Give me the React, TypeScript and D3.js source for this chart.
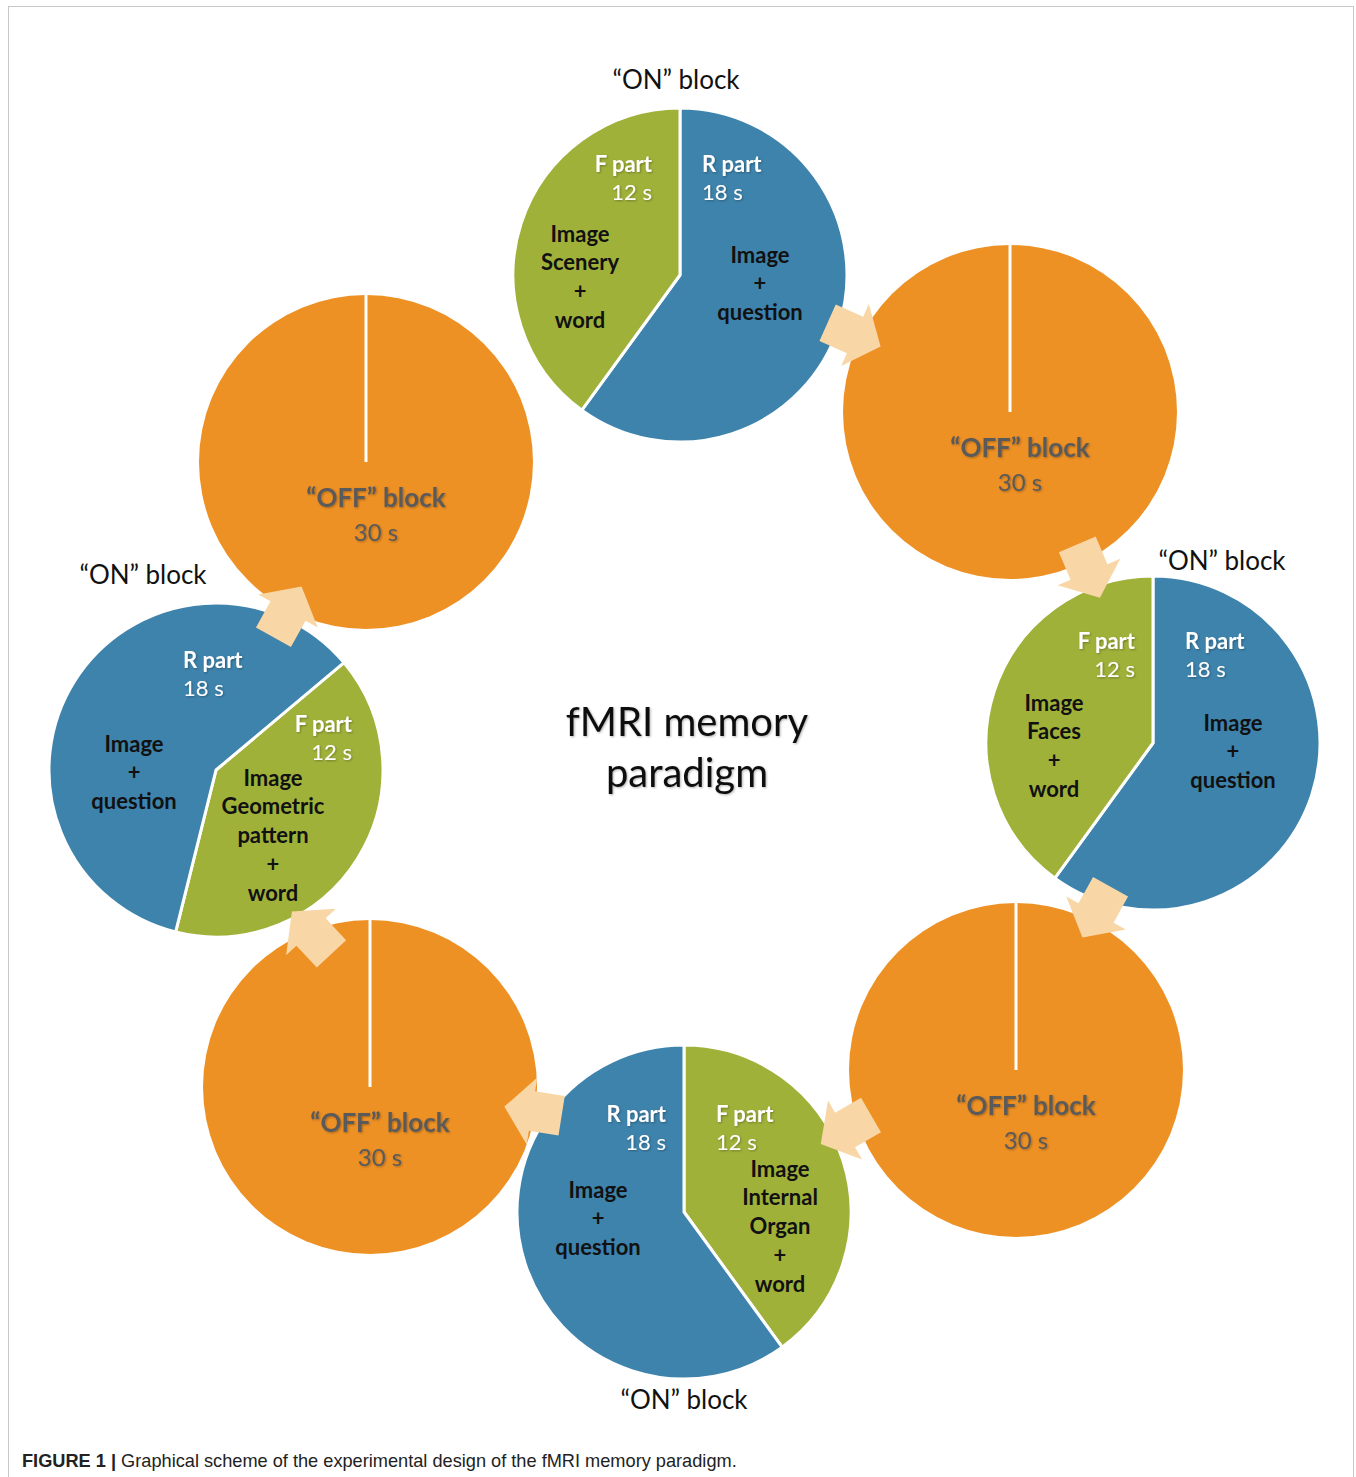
import * as d3 from 'd3';

const W = 1356;
const H = 1477;

// ---- data ----
const blockTypes = ['ON', 'OFF', 'ON', 'OFF', 'ON', 'OFF', 'ON', 'OFF'];
const partNames = ['R part', 'F part'];
const partSeconds = [18, 12];
const offSeconds = 30;
const rContent = ['Image', '+', 'question'];
const fContents = [
    ['Image', 'Scenery', '+', 'word'],
    ['Image', 'Faces', '+', 'word'],
    ['Image', 'Internal', 'Organ', '+', 'word'],
    ['Image', 'Geometric', 'pattern', '+', 'word'],
];
const title = ['fMRI memory', 'paradigm'];
const captionBold = 'FIGURE 1 |';
const captionText = ' Graphical scheme of the experimental design of the fMRI memory paradigm.';

// ---- layout (pixel placement of the diagram) ----
const CENTERS = [
    [680, 275], [1010, 412], [1153, 743], [1016, 1070],
    [684, 1212], [370, 1087], [216, 770], [366, 462],
];
const RADIUS = 167;
// order of parts in the pie (index into partNames) and start angle (deg)
const ON_LAYOUT = [
    { order: [0, 1], start: 0, block: [-4, -195],
      r: { hx: 22, anchor: 'start', hy: -111, cx: 80, cy: -20 },
      f: { hx: -28, anchor: 'end', hy: -111, cx: -100, cy: -41 } },
    { order: [0, 1], start: 0, block: [69, -182],
      r: { hx: 32, anchor: 'start', hy: -102, cx: 80, cy: -20 },
      f: { hx: -18, anchor: 'end', hy: -102, cx: -99, cy: -40 } },
    { order: [1, 0], start: 0, block: [0, 188],
      r: { hx: -18, anchor: 'end', hy: -98, cx: -86, cy: -22 },
      f: { hx: 32, anchor: 'start', hy: -98, cx: 96, cy: -43 } },
    { order: [1, 0], start: 50, block: [-73, -195],
      r: { hx: -33, anchor: 'start', hy: -110, cx: -82, cy: -26 },
      f: { hx: 136, anchor: 'end', hy: -46, cx: 57, cy: 8 } },
];
const ARROWS = [
    [855, 335, 24], [1089, 572, 67], [1096, 913, 119], [845, 1130, 150],
    [532, 1111, 189], [311, 932, 227], [288, 611, 299],
];
const LINE = 28.7;

const COLORS = { R: '#3e83ac', F: '#a0b13a', OFF: '#ee9125', arrow: '#f9d6a5', offText: '#5a5a5a' };
const FONT = 'Lato, "Open Sans", sans-serif';

const arcGen = d3.arc<any>().innerRadius(0).outerRadius(RADIUS);
const arrowPath = 'M-30,-20L0,-20L0,-34L28,0L0,34L0,20L-30,20Z';

function OnPie({ cx, cy, lay, fIdx }: any) {
    const pie = d3.pie<number>()
        .sort(null)
        .value((i) => partSeconds[i])
        .startAngle((lay.start * Math.PI) / 180)
        .endAngle((lay.start * Math.PI) / 180 + 2 * Math.PI);
    const slices = pie(lay.order);
    const parts = [
        { k: 'r', lines: rContent, idx: 0 },
        { k: 'f', lines: fContents[fIdx], idx: 1 },
    ];
    return (
        <g transform={`translate(${cx},${cy})`}>
            {slices.map((s) => (
                <path key={s.data} d={arcGen(s) || ''}
                    fill={s.data === 0 ? COLORS.R : COLORS.F}
                    stroke="#fff" strokeWidth={3} strokeLinejoin="round" />
            ))}
            {parts.map((p) => {
                const c = lay[p.k];
                return (
                    <g key={p.k}>
                        <text x={c.hx} y={c.hy} textAnchor={c.anchor} dy="0.35em"
                            fill="#fff" fontWeight="bold" fontSize={22} filter="url(#sh)">
                            {partNames[p.idx]}
                        </text>
                        <text x={c.hx} y={c.hy + 28} textAnchor={c.anchor} dy="0.35em"
                            fill="#fff" fontSize={22} filter="url(#sh)">
                            {partSeconds[p.idx]} s
                        </text>
                        {p.lines.map((l, i) => (
                            <text key={i} x={c.cx} y={c.cy + i * LINE} textAnchor="middle" dy="0.35em"
                                fill="#111" fontWeight="bold" fontSize={22}>
                                {l}
                            </text>
                        ))}
                    </g>
                );
            })}
            <text x={lay.block[0]} y={lay.block[1]} textAnchor="middle" dy="0.35em"
                fill="#111" fontSize={26}>
                “ON” block
            </text>
        </g>
    );
}

function OffPie({ cx, cy }: any) {
    const slice = d3.pie<number>().value((d) => d)([offSeconds])[0];
    return (
        <g transform={`translate(${cx},${cy})`}>
            <path d={arcGen(slice) || ''} fill={COLORS.OFF} />
            <line x1={0} y1={-RADIUS} x2={0} y2={0} stroke="#fff" strokeWidth={3} />
            <text x={10} y={36} textAnchor="middle" dy="0.35em" fill={COLORS.offText}
                fontWeight="bold" fontSize={26} filter="url(#sh)">
                “OFF” block
            </text>
            <text x={10} y={71} textAnchor="middle" dy="0.35em" fill={COLORS.offText}
                fontSize={24} filter="url(#sh)">
                {offSeconds} s
            </text>
        </g>
    );
}

export default function App() {
    let onCount = 0;
    return (
        <div style={{ position: 'absolute', left: 0, top: 0, background: '#fff' }}>
            <svg width={W} height={H} fontFamily={FONT} style={{ display: 'block' }}>
                <defs>
                    <filter id="sh" x="-20%" y="-40%" width="140%" height="180%">
                        <feDropShadow dx={1} dy={1} stdDeviation={0.8} floodColor="#000" floodOpacity={0.3} />
                    </filter>
                </defs>
                <rect x={0} y={0} width={W} height={H} fill="#fff" />
                <rect x={8.5} y={6.5} width={1345} height={H + 20} fill="none" stroke="#c8c8c8" strokeWidth={1} />
                {blockTypes.map((b, i) => {
                    const [cx, cy] = CENTERS[i];
                    if (b === 'OFF') return <OffPie key={i} cx={cx} cy={cy} />;
                    const k = onCount++;
                    return <OnPie key={i} cx={cx} cy={cy} lay={ON_LAYOUT[k]} fIdx={k} />;
                })}
                {ARROWS.map(([x, y, a], i) => (
                    <path key={i} d={arrowPath} transform={`translate(${x},${y}) rotate(${a})`}
                        fill={COLORS.arrow} />
                ))}
                {title.map((t, i) => (
                    <text key={t} x={687} y={722 + i * 51} textAnchor="middle" dy="0.35em"
                        fontSize={40} fill="#111" filter="url(#sh)">
                        {t}
                    </text>
                ))}
                <text x={22} y={1467} fontFamily='"Liberation Sans", Arial, sans-serif'
                    fontSize={18.2} fill="#222">
                    <tspan fontWeight="bold">{captionBold}</tspan>
                    <tspan>{captionText}</tspan>
                </text>
            </svg>
        </div>
    );
}
